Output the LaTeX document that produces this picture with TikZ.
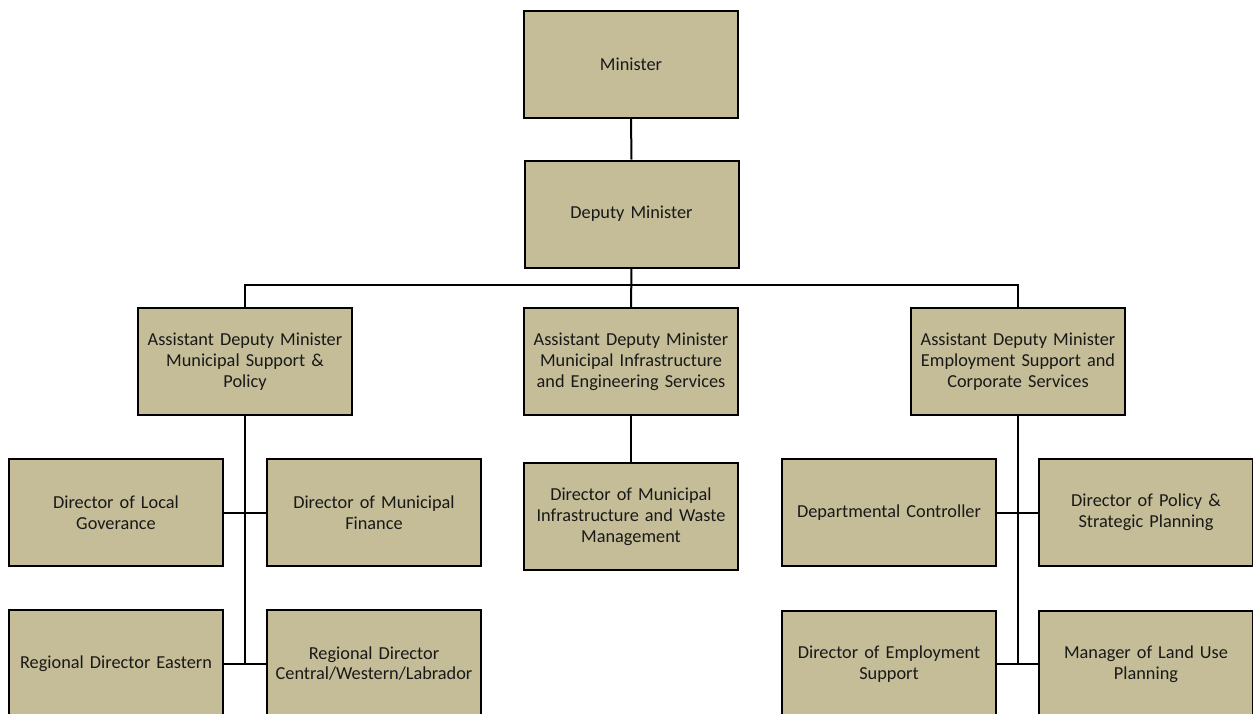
\documentclass[tikz,border=0pt]{standalone}
\usepackage{fontspec}
\setmainfont[WordSpace=0.85]{Carlito}
\definecolor{boxfill}{HTML}{C4BD97}
\begin{document}
\begin{tikzpicture}[x=1pt,y=-1pt,
  orgbox/.style={draw=black,line width=2pt,fill=boxfill,minimum width=214pt,minimum height=107pt,
    inner sep=2pt,align=center,text width=208pt,font=\fontsize{18.3}{20.8}\selectfont,text=black!90},
  conn/.style={line width=2pt,black}]
\useasboundingbox[clip] (0,0) rectangle (1253,713);
\fill[white] (0,0) rectangle (1253,713);
\node[orgbox] (min) at (631,64.5) {Minister};
\node[orgbox] (dep) at (631.5,214) {Deputy Minister};
\node[orgbox] (adma) at (245,361.5) {Assistant Deputy Minister\\Municipal Support \&\\Policy};
\node[orgbox] (admb) at (631,361.5) {Assistant Deputy Minister\\Municipal Infrastructure\\and Engineering Services};
\node[orgbox] (admc) at (1018,361.5) {Assistant Deputy Minister\\Employment Support and\\Corporate Services};
\node[orgbox] (dmi) at (631,516.5) {Director of Municipal\\Infrastructure and Waste\\Management};
\node[orgbox] (dlg) at (116,512.5) {Director of Local\\Goverance};
\node[orgbox] (dmf) at (374,512.5) {Director of Municipal\\Finance};
\node[orgbox] (rde) at (116,663.5) {Regional Director Eastern};
\node[orgbox] (rdc) at (374,663.5) {Regional Director\\Central/Western/Labrador};
\node[orgbox] (dc) at (889,512.5) {Departmental Controller};
\node[orgbox] (dps) at (1146,512.5) {Director of Policy \&\\Strategic Planning};
\node[orgbox] (des) at (889,664) {Director of Employment\\Support};
\node[orgbox] (mlu) at (1146,664) {Manager of Land Use\\Planning};
\coordinate (bar) at (631,285);
\coordinate (lend) at (245,663.5);
\coordinate (rend) at (1018,664);
\draw[conn] (min.south) -- (dep.north);
\draw[conn] (dep.south) -- (admb.north);
\draw[line width=1.5pt] (adma.north) |- (bar) -| (admc.north);
\draw[conn] (adma.south) -- (lend);
\draw[conn] (dlg.east) -- (dmf.west);
\draw[conn] (rde.east) -- (rdc.west);
\draw[conn] (admb.south) -- (dmi.north);
\draw[conn] (admc.south) -- (rend);
\draw[conn] (dc.east) -- (dps.west);
\draw[conn] (des.east) -- (mlu.west);
\end{tikzpicture}
\end{document}
